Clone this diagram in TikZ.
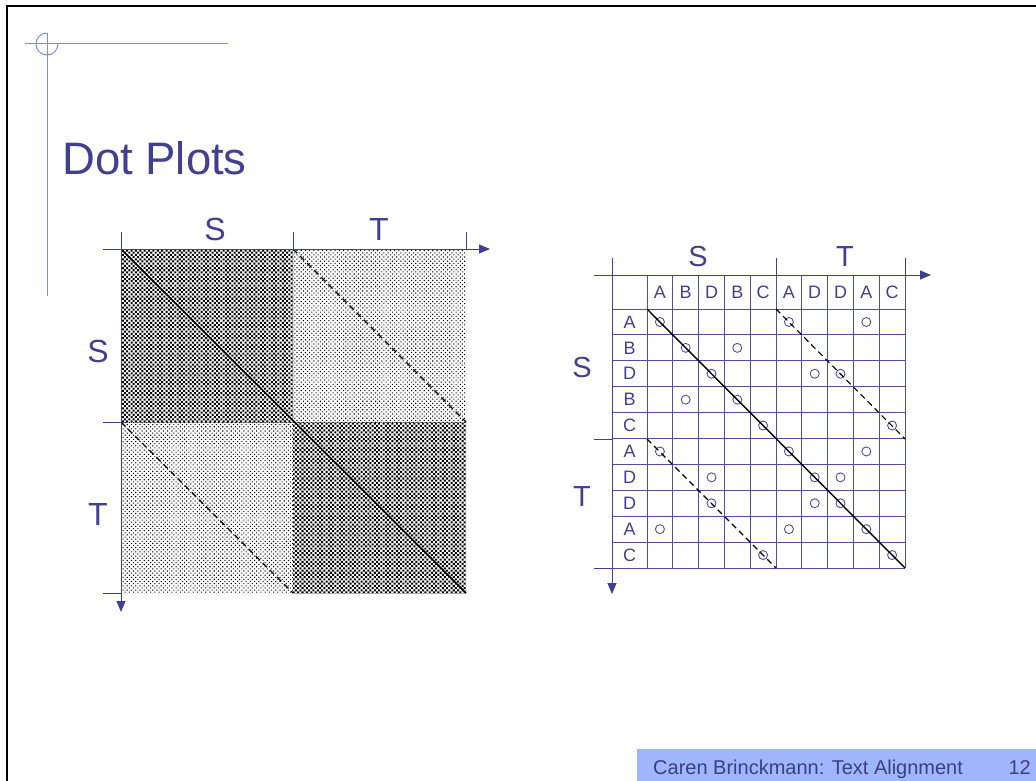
\documentclass[tikz,border=0pt]{standalone}
\usepackage{fontspec}
\setmainfont{Liberation Sans}
\usepackage{tikz}
\usetikzlibrary{positioning,arrows.meta,patterns.meta}

\definecolor{titleblue}{RGB}{64,64,144}
\definecolor{gridblue}{RGB}{80,80,158}
\definecolor{decoblue}{RGB}{120,142,240}
\definecolor{barblue}{RGB}{160,182,250}
\definecolor{footgray}{RGB}{62,62,128}

\begin{document}
\begin{tikzpicture}[
        x=1pt, y=-1pt,
        axis/.style={draw=titleblue, line width=1pt},
        arr/.style={axis, -{Triangle[length=11pt, width=9pt]}},
        big/.style={text=titleblue, font=\fontsize{32}{34}\selectfont, inner sep=0pt},
        mid/.style={text=titleblue, font=\fontsize{29}{31}\selectfont, inner sep=0pt},
        letter/.style={text=titleblue, font=\fontsize{18}{20}\selectfont, inner sep=0pt},
        dark/.style={pattern={Dots[distance=3.1pt, radius=1.42pt, angle=45]}},
        light/.style={pattern={Dots[distance=3pt, radius=0.75pt, angle=45]}},
        match/.style={draw=gridblue, circle, line width=0.9pt, minimum size=9pt, inner sep=0pt},
        diag/.style={draw=black, line width=1.6pt},
        dashdiag/.style={draw=black, line width=1.2pt, dash pattern=on 6pt off 4pt},
        foottext/.style={text=footgray, font=\fontsize{20}{22}\selectfont, inner sep=0pt},
    ]
    \useasboundingbox (0,0) rectangle (1036,781);

    % --- Rahmen und Deko ---
    \draw[line width=2pt] (7,781) -- (7,6) -- (1036,6);
    \draw[decoblue, line width=1pt] (25,44) -- (228,44);
    \draw[decoblue, line width=1pt] (47,33) -- (47,296);
    \draw[decoblue, line width=1pt] (47,33) arc[start angle=-90, end angle=-360, radius=11];

    \node[anchor=base west, text=titleblue, font=\fontsize{45.5}{48}\selectfont, inner sep=0pt]
        (title) at (62,175) {Dot Plots};

    % --- linker Plot ---
    \coordinate (o) at (121,249);
    \coordinate (m) at (293,422);
    \coordinate (e) at (466,593);
    \path[dark] (o) rectangle (m);
    \path[dark] (m) rectangle (e);
    \path[light] (293,249) rectangle (466,422);
    \path[light] (121,422) rectangle (293,593);
    \draw[diag] (o) -- (e);
    \draw[dashdiag] (293,249) -- (466,422);
    \draw[dashdiag] (121,422) -- (293,593);

    \draw[arr] (103,249) -- (490,249);
    \draw[arr] (121,232) -- (121,612);
    \draw[axis] (293,232) -- (293,249);
    \draw[axis] (466,232) -- (466,249);
    \draw[axis] (103,422) -- (121,422);
    \draw[axis] (103,593) -- (121,593);

    \node[big] (ls) at (215,229) {S};
    \node[big] (lt) at (379,229) {T};
    \node[big] (lls) at (98,351) {S};
    \node[big] (llt) at (98,514) {T};

    % --- rechter Plot ---
    \foreach \k in {0,...,10}{
        \draw[gridblue, line width=0.9pt] ({647+\k*25.8},275) -- ({647+\k*25.8},568);
        \draw[gridblue, line width=0.9pt] (612,{309+\k*25.9}) -- (905,{309+\k*25.9});
    }
    \draw[arr] (594,275) -- (931,275);
    \draw[arr] (612,258) -- (612,594);
    \draw[axis] (776,258) -- (776,275);
    \draw[axis] (905,258) -- (905,275);
    \draw[axis] (594,439) -- (612,439);
    \draw[axis] (594,568) -- (612,568);

    \foreach \l [count=\i] in {A,B,D,B,C,A,D,D,A,C}{
        \node[letter] (c\i) at ({647+(\i-0.5)*25.8},292) {\l};
        \node[letter] (r\i) at (629.5,{309+(\i-0.5)*25.9}) {\l};
    }
    \foreach \a [count=\i] in {A,B,D,B,C,A,D,D,A,C}{
        \foreach \b [count=\j] in {A,B,D,B,C,A,D,D,A,C}{
            \ifx\a\b
                \node[match] (p\i-\j) at ({647+(\j-0.5)*25.8},{309+(\i-0.5)*25.9}) {};
            \fi
        }
    }
    \draw[diag, line width=1.4pt] (647,309) -- (905,568);
    \draw[dashdiag, line width=1.1pt] (776,309) -- (905,439);
    \draw[dashdiag, line width=1.1pt] (647,439) -- (776,568);

    \node[mid] (rs) at (698,257) {S};
    \node[mid] (rt) at (845,257) {T};
    \node[mid] (rls) at (582,368) {S};
    \node[mid] (rlt) at (582,497) {T};

    % --- Fusszeile ---
    \fill[barblue] (637,749) rectangle (1036,781);
    \node[foottext, anchor=base west] (foot) at (653,774) {Caren Brinckmann: Text Alignment};
    \node[foottext, anchor=base east] (page) at (1031,774) {12};
\end{tikzpicture}
\end{document}
